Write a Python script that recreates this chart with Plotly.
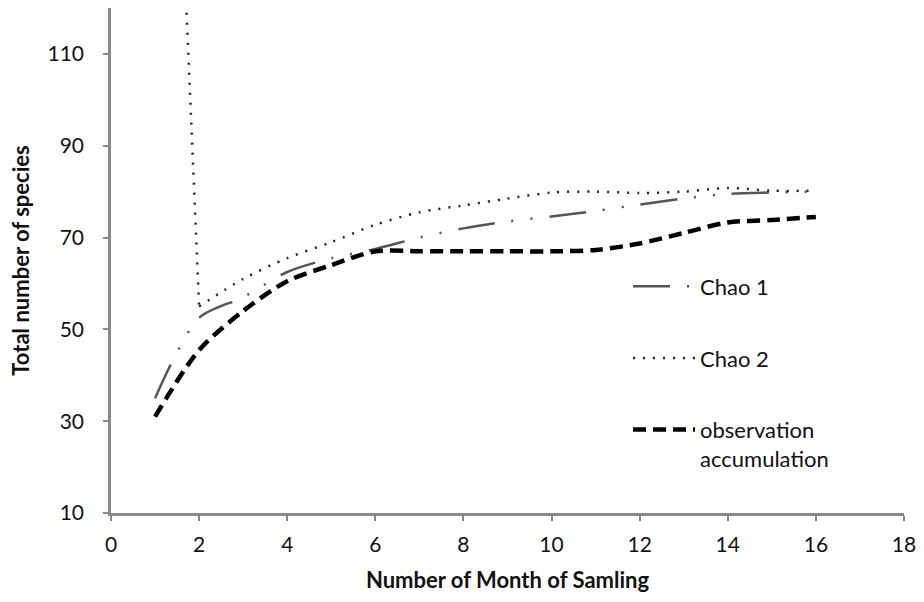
import plotly.graph_objects as go

months = list(range(1, 17))
chao1 = [35, 52.5, 57, 62.5, 65.5, 67.5, 70, 72, 73.5, 74.6, 75.8, 77.2, 78.5, 79.5, 79.8, 80]
chao2 = [280, 55, 61, 65.5, 69, 72.8, 75.5, 77, 78.5, 79.8, 80, 79.7, 80, 80.8, 80.2, 80.2]
observed = [31, 45.5, 54, 60.5, 64, 67, 67, 67, 67, 67, 67.3, 68.7, 71, 73.3, 73.8, 74.5]

x_ticks = list(range(0, 19, 2))
y_ticks = list(range(10, 111, 20))

FONT = "Lato, 'Open Sans', sans-serif"

fig = go.Figure()

fig.add_trace(go.Scatter(
    x=months, y=chao1, mode="lines", name="Chao 1",
    line=dict(color="#555555", width=2.5, dash="37px,17px,2px,17px,2px,17px", shape="spline", smoothing=0.8),
    legendgroup="a",
))
# Chao 2: steep first segment drawn straight, remainder smoothed
fig.add_trace(go.Scatter(
    x=months[:2], y=chao2[:2], mode="lines", name="Chao 2",
    line=dict(color="#222222", width=2.5, dash="2px,8px"),
    legendgroup="b", showlegend=False,
))
fig.add_trace(go.Scatter(
    x=months[1:], y=chao2[1:], mode="lines", name="Chao 2",
    line=dict(color="#222222", width=2.5, dash="2px,8px", shape="spline", smoothing=0.8),
    legendgroup="b",
))
fig.add_trace(go.Scatter(
    x=months, y=observed, mode="lines", name="observation<br>accumulation",
    line=dict(color="#000000", width=4.5, dash="13px,7px", shape="spline", smoothing=0.8),
    legendgroup="c",
))

fig.update_layout(
    width=924, height=602,
    margin=dict(l=111, r=16, t=8, b=89),
    paper_bgcolor="white", plot_bgcolor="white",
    font=dict(family=FONT, size=21, color="#111111"),
    showlegend=True,
    legend=dict(
        x=0.652, y=0.49, xanchor="left", yanchor="top",
        bgcolor="rgba(0,0,0,0)", tracegroupgap=40, valign="top",
        font=dict(family=FONT, size=22, color="#111111"),
        itemwidth=62,
    ),
    xaxis=dict(
        range=[0, 18], tickvals=x_ticks, ticktext=[str(v) for v in x_ticks],
        showline=True, linecolor="#888888", linewidth=2.5,
        ticks="outside", ticklen=5, tickcolor="#888888", tickwidth=1.5,
        showgrid=False, zeroline=False,
        tickfont=dict(family=FONT, size=21),
        ticklabelstandoff=6,
        title=dict(text="<b>Number of Month of Samling</b>", font=dict(family=FONT, size=22), standoff=18),
    ),
    yaxis=dict(
        range=[10, 120], tickvals=y_ticks, ticktext=[str(v) for v in y_ticks],
        showline=True, linecolor="#888888", linewidth=2.5,
        ticks="outside", ticklen=5, tickcolor="#888888", tickwidth=1.5,
        showgrid=False, zeroline=False,
        tickfont=dict(family=FONT, size=21),
        ticklabelstandoff=15,
        title=dict(text="<b>Total number of species</b>", font=dict(family=FONT, size=22), standoff=12),
    ),
)

fig.write_html("out.html")
